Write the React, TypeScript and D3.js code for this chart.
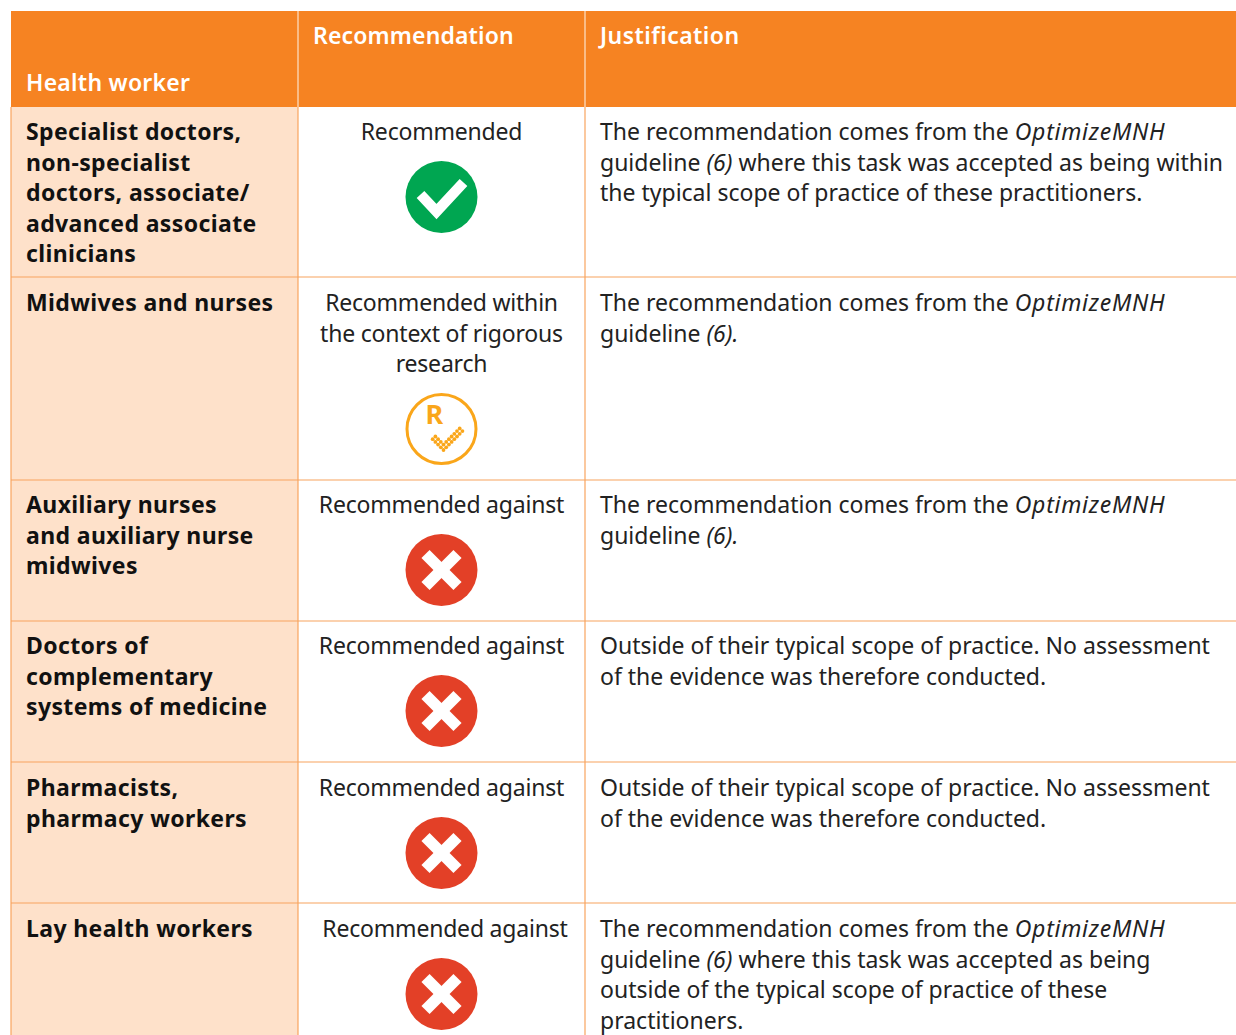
import React from 'react';
import * as d3 from 'd3';

const headers = ['Health worker', 'Recommendation', 'Justification'];

const workers = [
  ['Specialist doctors,', 'non-specialist', 'doctors, associate/', 'advanced associate', 'clinicians'],
  ['Midwives and nurses'],
  ['Auxiliary nurses', 'and auxiliary nurse', 'midwives'],
  ['Doctors of', 'complementary', 'systems of medicine'],
  ['Pharmacists,', 'pharmacy workers'],
  ['Lay health workers'],
];

const recommendations = [
  ['Recommended'],
  ['Recommended within', 'the context of rigorous', 'research'],
  ['Recommended against'],
  ['Recommended against'],
  ['Recommended against'],
  ['Recommended against'],
];

const icons = ['check', 'research', 'cross', 'cross', 'cross', 'cross'];

// *...* marks italic runs
const justifications = [
  ['The recommendation comes from the *OptimizeMNH*', 'guideline *(6)* where this task was accepted as being within', 'the typical scope of practice of these practitioners.'],
  ['The recommendation comes from the *OptimizeMNH*', 'guideline *(6).*'],
  ['The recommendation comes from the *OptimizeMNH*', 'guideline *(6).*'],
  ['Outside of their typical scope of practice. No assessment', 'of the evidence was therefore conducted.'],
  ['Outside of their typical scope of practice. No assessment', 'of the evidence was therefore conducted.'],
  ['The recommendation comes from the *OptimizeMNH*', 'guideline *(6)* where this task was accepted as being', 'outside of the typical scope of practice of these', 'practitioners.'],
];

const rowEdges = [107, 277, 480, 621, 762, 903, 1044];
const baselines = [140, 311, 513, 654, 796, 937];
const iconCenters = [197, 429, 570, 711, 853, 994];
const columnEdges = [11, 298, 585, 1236];

const ORANGE = '#f68322';
const PEACH = '#fee1ca';
const RULE = '#f8a45e';
const AMBER = '#faa61a';
const FONT = '"Noto Sans", "Open Sans", sans-serif';
const FONT_SIZE = 23;
const LINE = 30.5;

const lineY = d3.scaleLinear().domain([0, 1]).range([0, LINE]);
const circleArc = d3.arc()({ innerRadius: 0, outerRadius: 36, startAngle: 0, endAngle: 2 * Math.PI } as any) as string;

function Lines({ lines, x, y, anchor, weight, fill, spacing }: any) {
  return (
    <text fontFamily={FONT} fontSize={FONT_SIZE} fontWeight={weight} fill={fill} textAnchor={anchor} letterSpacing={spacing}>
      {lines.map((line: string, i: number) => (
        <tspan key={i} x={x} y={y + lineY(i)}>
          {line.split('*').map((part, j) => (
            <tspan key={j} fontStyle={j % 2 ? 'italic' : 'normal'} letterSpacing={part === 'OptimizeMNH' ? 0.75 : undefined}>{part}</tspan>
          ))}
        </tspan>
      ))}
    </text>
  );
}

function Icon({ kind, cx, cy }: any) {
  if (kind === 'check') {
    return (
      <g transform={`translate(${cx},${cy})`}>
        <path d={circleArc} fill="#00a651" />
        <path d={d3.line()([[-21, -2.5], [-5, 14.5], [22, -14.5]]) as string} fill="none" stroke="#fff" strokeWidth={10.5} />
      </g>
    );
  }
  if (kind === 'cross') {
    return (
      <g transform={`translate(${cx},${cy})`}>
        <path d={circleArc} fill="#e34027" />
        <path d={d3.line()([[-16, -16], [16, 16]]) as string} stroke="#fff" strokeWidth={11.5} />
        <path d={d3.line()([[-16, 16], [16, -16]]) as string} stroke="#fff" strokeWidth={11.5} />
      </g>
    );
  }
  // dotted tick: two bands on a diagonal grid
  const step = 2.7;
  const cells = [...d3.cross(d3.range(0, 8), [-1, 0]), ...d3.cross([0, 1], d3.range(-4, -1))];
  return (
    <g transform={`translate(${cx},${cy})`}>
      <circle r={34.5} fill="none" stroke={AMBER} strokeWidth={3} />
      <text x={-16} y={-5} fontFamily={FONT} fontSize={27} fontWeight={700} fill={AMBER}>R</text>
      {cells.map(([u, v], i) => (
        <circle key={i} cx={2 + step * (u + v)} cy={21 + step * (v - u)} r={1.9} fill={AMBER} />
      ))}
    </g>
  );
}

export default function App() {
  document.body.style.margin = '0';
  document.body.style.overflow = 'hidden';
  const padX = 15;
  const midCol = (columnEdges[1] + columnEdges[2]) / 2;
  return (
    <svg width={1236} height={1035} style={{ display: 'block' }}>
      <rect width={1236} height={1035} fill="#fff" />
      <rect x={columnEdges[0]} y={11} width={1225} height={96} fill={ORANGE} />
      <rect x={columnEdges[0]} y={107} width={287} height={928} fill={PEACH} />
      {columnEdges.slice(1, 3).map((x) => (
        <line key={x} x1={x} x2={x} y1={11} y2={107} stroke="#fde3cc" strokeWidth={1.2} />
      ))}
      {columnEdges.slice(0, 3).map((x) => (
        <line key={x} x1={x} x2={x} y1={107} y2={1035} stroke={RULE} strokeWidth={1.2} />
      ))}
      {rowEdges.slice(1, 6).map((y) => (
        <line key={y} x1={11} x2={1236} y1={y} y2={y} stroke={RULE} strokeWidth={1.2} />
      ))}
      <Lines lines={[headers[0]]} x={26} y={91} weight={600} fill="#fff" spacing={0.25} />
      <Lines lines={[headers[1]]} x={313} y={44} weight={600} fill="#fff" spacing={0.15} />
      <Lines lines={[headers[2]]} x={600} y={44} weight={600} fill="#fff" spacing={0.45} />
      {workers.map((lines, i) => (
        <Lines key={i} lines={lines} x={columnEdges[0] + padX} y={baselines[i]} weight={700} fill="#111" spacing={0.38} />
      ))}
      {recommendations.map((lines, i) => (
        <Lines key={i} lines={lines} x={i === 5 ? midCol + 3.5 : midCol} y={baselines[i]} anchor="middle" weight={400} fill="#222" spacing={-0.2} />
      ))}
      {justifications.map((lines, i) => (
        <Lines key={i} lines={lines} x={columnEdges[2] + padX} y={baselines[i]} weight={400} fill="#222" spacing={0} />
      ))}
      {icons.map((kind, i) => (
        <Icon key={i} kind={kind} cx={midCol} cy={iconCenters[i]} />
      ))}
    </svg>
  );
}
